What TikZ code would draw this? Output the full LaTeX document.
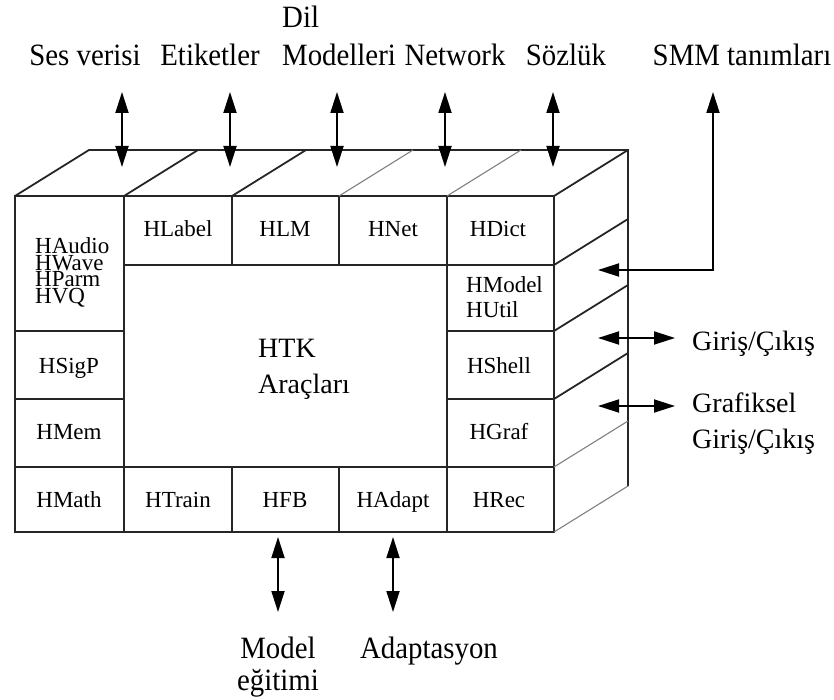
\documentclass[tikz,border=0pt]{standalone}
\usepackage{fontspec}
\setmainfont{Liberation Serif}
\newfontfamily\tallserif[FakeStretch=0.93]{Liberation Serif}
\usetikzlibrary{arrows.meta}

\begin{document}
\begin{tikzpicture}[x=1pt,y=-1pt,
  edge/.style={line width=1.8pt, draw=black!85},
  faint/.style={line width=1.1pt, draw=black!50},
  cell/.style={font=\fontsize{23}{23}\selectfont, anchor=base, inner sep=0pt},
  cellw/.style={font=\fontsize{23}{23}\selectfont, anchor=base west, inner sep=0pt},
  lbl/.style={font=\tallserif\fontsize{31}{31}\selectfont, anchor=base, inner sep=0pt},
  lblw/.style={font=\tallserif\fontsize{31}{31}\selectfont, anchor=base west, inner sep=0pt},
  side/.style={font=\fontsize{28}{28}\selectfont, anchor=base west, inner sep=0pt},
  tip/.tip={Triangle[length=21pt,width=13pt]},
  io/.style={line width=1.8pt, draw=black, tip-tip},
  ]
\useasboundingbox (0,0) rectangle (834,700);

% ---- box: front face grid ----
\draw[edge] (15,196) rectangle (554,532);
\draw[edge] (124,196) -- (124,532);
\draw[edge] (447,196) -- (447,532);
\draw[edge] (232,196) -- (232,265);
\draw[edge] (339,196) -- (339,265);
\draw[edge] (124,265) -- (554,265);
\draw[edge] (15,331) -- (124,331);
\draw[edge] (15,399) -- (124,399);
\draw[edge] (447,331) -- (554,331);
\draw[edge] (447,399) -- (554,399);
\draw[edge] (15,467) -- (554,467);
\draw[edge] (232,467) -- (232,532);
\draw[edge] (339,467) -- (339,532);

% ---- top face ----
\draw[edge] (15,196) -- (89,150) -- (628,150) -- (628,486);
\draw[edge] (124,196) -- (198,150);
\draw[edge] (232,196) -- (306,150);
\draw[faint] (339,196) -- (413,150);
\draw[faint] (447,196) -- (521,150);
\draw[edge] (554,196) -- (628,150);

% ---- right face ----
\draw[edge] (554,265) -- (628,219);
\draw[edge] (554,331) -- (628,285);
\draw[edge] (554,399) -- (628,353);
\draw[faint] (554,467) -- (628,421);
\draw[faint] (554,532) -- (628,486);

% ---- module names ----
% four tightly stacked names in the first cell
\node[anchor=north west, inner sep=0pt, font=\fontsize{23}{16.5}\selectfont]
  (haudio) at (35,237.5)
  {\vbox{\baselineskip=16.5pt\lineskiplimit=-30pt\lineskip=0pt\relax
         \hbox{HAudio}\hbox{HWave}\hbox{HParm}\hbox{HVQ}}};
\node[cell] (hlabel) at (178,237) {HLabel};
\node[cell] (hlm)    at (285,237) {HLM};
\node[cell] (hnet)   at (393,237) {HNet};
\node[cell] (hdict)  at (498,237) {HDict};
\node[cellw] (hmodel) at (466,292) {HModel};
\node[cellw] (hutil)  at (466,317) {HUtil};
\node[cell] (hsigp)  at (69,373) {HSigP};
\node[cell] (hmem)   at (69,439) {HMem};
\node[cell] (hshell) at (499,373) {HShell};
\node[cell] (hgraf)  at (499,439) {HGraf};
\node[cell] (hmath)  at (69,507) {HMath};
\node[cell] (htrain) at (178,507) {HTrain};
\node[cell] (hfb)    at (285,507) {HFB};
\node[cell] (hadapt) at (393,507) {HAdapt};
\node[cell] (hrec)   at (499,507) {HRec};
\node[side] (htk)    at (258,357) {HTK};
\node[side] (arac)   at (258,393) {Araçları};

% ---- external resources ----
\node[lbl]  (ses)   at (85,66)  {Ses verisi};
\node[lbl]  (etik)  at (210,66) {Etiketler};
\node[lblw] (dil)   at (282,28) {Dil};
\node[lblw] (model) at (282,66) {Modelleri};
\node[lbl]  (netw)  at (455,66) {Network};
\node[lbl]  (sozl)  at (566,66) {Sözlük};
\node[lbl]  (smm)   at (742,66) {SMM tanımları};
\node[side] (gc)    at (692,350) {Giriş/Çıkış};
\node[side] (graf)  at (692,412) {Grafiksel};
\node[side] (ggc)   at (692,448) {Giriş/Çıkış};
\node[lbl]  (megt)  at (278,658) {Model};
\node[lbl]  (megt2) at (278,690) {eğitimi};
\node[lbl]  (adap)  at (429,658) {Adaptasyon};

% ---- arrow end points ----
\coordinate (sesT) at (122,92);  \coordinate (sesB) at (122,167);
\coordinate (etiT) at (230,92);  \coordinate (etiB) at (230,167);
\coordinate (dilT) at (337,92);  \coordinate (dilB) at (337,167);
\coordinate (netT) at (445,92);  \coordinate (netB) at (445,167);
\coordinate (sozT) at (553,92);  \coordinate (sozB) at (553,167);
\coordinate (smmT) at (713,92);  \coordinate (smmC) at (713,270);
\coordinate (smmE) at (598,270);
\coordinate (ioL)  at (598,338); \coordinate (ioR)  at (675,338);
\coordinate (grL)  at (598,406); \coordinate (grR)  at (675,406);
\coordinate (trT)  at (278,537); \coordinate (trB)  at (278,612);
\coordinate (adT)  at (393,537); \coordinate (adB)  at (393,612);

% ---- arrows ----
\draw[io] (sesT) -- (sesB);
\draw[io] (etiT) -- (etiB);
\draw[io] (dilT) -- (dilB);
\draw[io] (netT) -- (netB);
\draw[io] (sozT) -- (sozB);
\draw[io] (smmT) -- (smmC) -- (smmE);
\draw[io] (ioL) -- (ioR);
\draw[io] (grL) -- (grR);
\draw[io] (trT) -- (trB);
\draw[io] (adT) -- (adB);
\end{tikzpicture}
\end{document}
